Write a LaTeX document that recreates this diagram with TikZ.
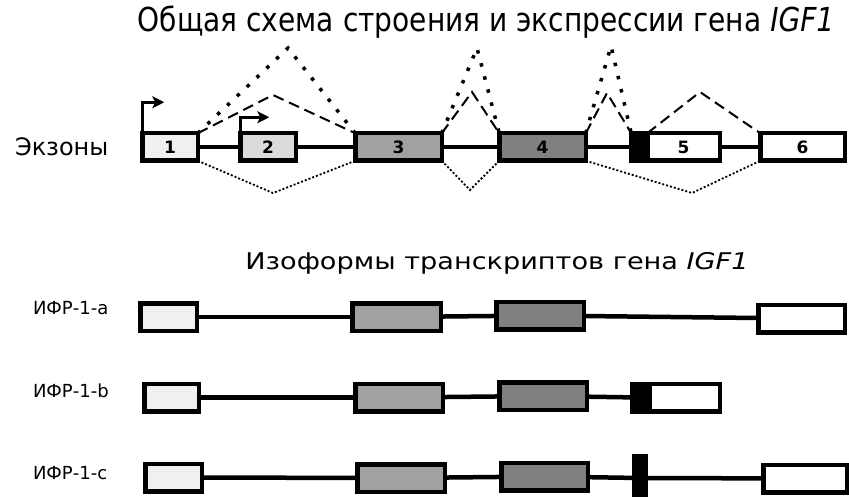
\documentclass[tikz,border=0pt]{standalone}
\usepackage{fontspec}
\setmainfont{DejaVu Sans}
\newfontfamily\titlefont[FakeStretch=0.85]{DejaVu Sans}
\newfontfamily\headfont[FakeStretch=1.18]{DejaVu Sans}
\usetikzlibrary{arrows.meta, positioning}

\begin{document}
\begin{tikzpicture}[
    x=1pt, y=-1pt,
    every node/.style={inner sep=0pt, outer sep=0pt},
    exon/.style={draw, line width=4.5pt, minimum height=27.5pt, font=\bfseries\fontsize{17}{17}\selectfont},
    intron/.style={line width=4.5pt},
    tss/.style={-{Stealth[length=12pt, width=12pt, inset=3pt]}, line width=3pt},
    bigdots/.style={line width=3.5pt, dash pattern=on 3.5pt off 10pt},
    longdash/.style={line width=2pt, dash pattern=on 11pt off 6pt},
    smalldots/.style={line width=1.8pt, dash pattern=on 2pt off 2pt},
    label/.style={font=\fontsize{18}{18}\selectfont, anchor=west}
]
\useasboundingbox (0,0) rectangle (849,497);

% Titles
\node (T) at (486,22) {\titlefont\fontsize{33}{33}\selectfont Общая схема строения и экспрессии гена \textit{IGF1}};
\node (X) [anchor=west] at (15,147) {\fontsize{24}{24}\selectfont Экзоны};
\node (H) at (497,263) {\headfont\fontsize{23}{23}\selectfont Изоформы транскриптов гена \textit{IGF1}};

% Gene exons
\node[exon, fill=black!6, minimum width=55.5pt] (e1) at (170,147) {1};
\node[exon, fill=black!14, minimum width=55.5pt] (e2) at (268,147) {2};
\node[exon, fill=black!37, minimum width=86.5pt] (e3) at (398.5,147) {3};
\node[exon, fill=black!50, minimum width=86.5pt] (e4) at (542.5,147) {4};
\node[exon, fill=black, minimum width=11.5pt] (bk) at (637,147) {};
\node[exon, fill=white, minimum width=72.5pt] (e5) at (683.5,147) {5};
\node[exon, fill=white, minimum width=84.5pt] (e6) at (802.5,147) {6};

% Introns
\draw[intron] (e1) -- (e2);
\draw[intron] (e2) -- (e3);
\draw[intron] (e3) -- (e4);
\draw[intron] (e4) -- (bk);
\draw[intron] (e5) -- (e6);

% Promoters
\draw[tss] (e1.north west) -- ++(0,-31) -- ++(22,0);
\draw[tss] (e2.north west) -- ++(0,-16) -- ++(29,0);

% Splicing
\draw[bigdots] (e1.north east) -- (288,48) -- (e3.north west);
\draw[bigdots] (e3.north east) -- (477,48) -- (e4.north west);
\draw[bigdots] (e4.north east) -- (611,46) -- (bk.north west);
\draw[longdash] (e1.north east) -- (273,95) -- (e3.north west);
\draw[longdash] (e3.north east) -- (472,92) -- (e4.north west);
\draw[longdash] (e4.north east) -- (607,93) -- (bk.north west);
\draw[longdash] (e5.north west) -- (700,92) -- (e6.north west);
\draw[smalldots] (e1.south east) -- (273,193) -- (e3.south west);
\draw[smalldots] (e3.south east) -- (470,190) -- (e4.south west);
\draw[smalldots] (e4.south east) -- (692,193) -- (e6.south west);

% Isoform a
\node[label] (la) at (33,308) {ИФР-1-a};
\node[exon, fill=black!6, minimum width=56.5pt] (a1) at (168.5,317) {};
\node[exon, fill=black!37, minimum width=88.5pt] (a3) at (396.5,317) {};
\node[exon, fill=black!50, minimum width=87.5pt] (a4) at (540,315.5) {};
\node[exon, fill=white, minimum width=86.5pt] (a6) at (801.5,318.5) {};
\draw[intron] (a1) -- (a3);
\draw[intron] (a3) -- (a4);
\draw[intron] (a4) -- (a6);

% Isoform b
\node[label] (lb) at (33,391) {ИФР-1-b};
\node[exon, fill=black!6, minimum width=54.5pt] (b1) at (171.5,397.5) {};
\node[exon, fill=black!37, minimum width=87.5pt] (b3) at (399,397.5) {};
\node[exon, fill=black!50, minimum width=87.5pt] (b4) at (543,396) {};
\node[exon, fill=black, minimum width=12.5pt] (bb) at (638.5,397.5) {};
\node[exon, fill=white, minimum width=70.5pt] (b5) at (684.5,397.5) {};
\draw[intron] (b1) -- (b3);
\draw[intron] (b3) -- (b4);
\draw[intron] (b4) -- (bb);

% Isoform c
\node[label] (lc) at (33,473) {ИФР-1-c};
\node[exon, fill=black!6, minimum width=56.5pt] (c1) at (173.5,477.5) {};
\node[exon, fill=black!37, minimum width=87.5pt] (c3) at (401,478) {};
\node[exon, fill=black!50, minimum width=86.5pt] (c4) at (544.5,476.5) {};
\node[exon, fill=black, minimum width=11.5pt, minimum height=44pt] (cb) at (640,478) {};
\node[exon, fill=white, minimum width=83.5pt] (c6) at (805,478.5) {};
\draw[intron] (c1) -- (c3);
\draw[intron] (c3) -- (c4);
\draw[intron] (c4) -- (cb);
\draw[intron] (cb) -- (c6);
\end{tikzpicture}
\end{document}
